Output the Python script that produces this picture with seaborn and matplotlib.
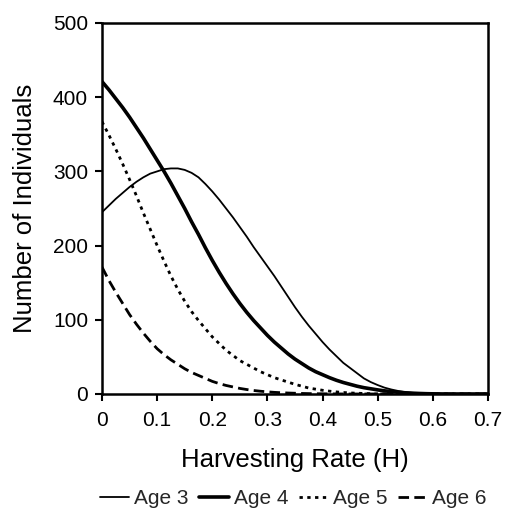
import matplotlib
matplotlib.use("Agg")
import matplotlib.pyplot as plt
import pandas as pd
import seaborn as sns

# Harvesting rate grid (H)
harvest = [
    0.0, 0.0125, 0.025, 0.0375, 0.05, 0.0625, 0.075, 0.0875,
    0.1, 0.1125, 0.125, 0.1375, 0.15, 0.1625, 0.175, 0.1875,
    0.2, 0.2125, 0.225, 0.2375, 0.25, 0.2625, 0.275, 0.2875,
    0.3, 0.3125, 0.325, 0.3375, 0.35, 0.3625, 0.375, 0.3875,
    0.4, 0.4125, 0.425, 0.4375, 0.45, 0.4625, 0.475, 0.4875,
    0.5, 0.5125, 0.525, 0.5375, 0.55, 0.5625, 0.575, 0.5875,
    0.6, 0.6125, 0.625, 0.6375, 0.65, 0.6625, 0.675, 0.6875,
    0.7,
]

# Number of individuals in each age class
age3 = [
    245, 254, 263, 271, 279, 286, 292, 297,
    300, 303, 304, 304, 302, 298, 292, 283,
    273, 262, 250, 238, 225, 212, 198, 185,
    172, 159, 145, 131, 117, 104, 92, 81,
    70, 60, 51, 42, 35, 28, 21, 16,
    12, 8.5, 6, 4, 2.5, 1.6, 1, 0.6,
    0.3, 0.15, 0, 0, 0, 0, 0, 0,
    0,
]
age4 = [
    421, 410, 398, 386, 373, 359, 345, 330,
    315, 300, 284, 267, 250, 232, 215, 197,
    180, 164, 149, 135, 122, 110, 99, 89,
    79, 70, 62, 54, 47, 41, 35, 30,
    26, 22, 18.5, 15.5, 13, 10.5, 8.5, 7,
    5.5, 4.2, 3.2, 2.3, 1.6, 1.1, 0.7, 0.4,
    0.2, 0.1, 0, 0, 0, 0, 0, 0,
    0,
]
age5 = [
    367, 349, 330, 310, 289, 267, 244, 222,
    200, 179, 159, 141, 125, 111, 99, 88,
    77, 68, 59, 52, 45, 40, 35, 30,
    26, 22, 19, 16, 13, 10.5, 8, 6.5,
    5, 3.8, 2.8, 2, 1.4, 1, 0.7, 0.4,
    0.25, 0.1, 0, 0, 0, 0, 0, 0,
    0, 0, 0, 0, 0, 0, 0, 0,
    0,
]
age6 = [
    171, 153, 137, 122, 107, 94, 82, 71,
    61, 53, 46, 40, 34, 29, 25, 21,
    17, 14, 11.5, 9.5, 7.5, 6, 4.7, 3.7,
    2.9, 2.2, 1.7, 1.3, 1, 0.7, 0.5, 0.35,
    0.25, 0.15, 0.1, 0, 0, 0, 0, 0,
    0, 0, 0, 0, 0, 0, 0, 0,
    0, 0, 0, 0, 0, 0, 0, 0,
    0,
]

series_names = ["Age 3", "Age 4", "Age 5", "Age 6"]
x_ticks = [0, 0.1, 0.2, 0.3, 0.4, 0.5, 0.6, 0.7]
x_tick_labels = ["0", "0.1", "0.2", "0.3", "0.4", "0.5", "0.6", "0.7"]
y_ticks = [0, 100, 200, 300, 400, 500]

df = pd.DataFrame({
    "H": harvest * 4,
    "N": age3 + age4 + age5 + age6,
    "Age": sum([[n] * len(harvest) for n in series_names], []),
})

sns.set_theme(style="white")
plt.rcParams["font.family"] = ["Liberation Sans", "DejaVu Sans"]

fig = plt.figure(figsize=(5.06, 5.11), dpi=100)
ax = fig.add_axes([0.2016, 0.229, 0.7628, 0.726])

line_styles = {
    "Age 3": dict(lw=1.3, ls="-"),
    "Age 4": dict(lw=2.6, ls="-"),
    "Age 5": dict(lw=2.0, ls=(0, (1.2, 1.6))),
    "Age 6": dict(lw=2.0, ls=(0, (3.8, 1.9))),
}

for name in series_names:
    sub = df[df["Age"] == name]
    st = line_styles[name]
    sns.lineplot(data=sub, x="H", y="N", ax=ax, color="black",
                 linewidth=st["lw"], linestyle=st["ls"], label=name,
                 legend=False)

ax.set_xlim(0, 0.7)
ax.set_ylim(0, 500)
ax.set_xticks(x_ticks)
ax.set_xticklabels(x_tick_labels)
ax.set_yticks(y_ticks)
ax.tick_params(axis="both", which="major", direction="out", length=5,
               width=1.5, color="black", labelsize=15, labelcolor="black",
               bottom=True, left=True)
ax.tick_params(axis="x", pad=7)
ax.tick_params(axis="y", pad=5)
for sp in ax.spines.values():
    sp.set_visible(True)
    sp.set_color("black")
    sp.set_linewidth(1.8)

ax.set_xlabel("Harvesting Rate (H)", fontsize=18.5, color="black", va="center")
ax.xaxis.set_label_coords(0.5, -0.177)
ax.set_ylabel("Number of Individuals", fontsize=18.5, color="black", va="center")
ax.yaxis.set_label_coords(-0.2, 0.5)

handles, labels = ax.get_legend_handles_labels()
fig.legend(handles, labels, loc="center", bbox_to_anchor=(0.58, 0.024),
           ncol=4, frameon=False, fontsize=15, handlelength=1.4,
           handletextpad=0.25, columnspacing=0.5, borderaxespad=0,
           borderpad=0)

fig.savefig("out.png", dpi=100, facecolor="white")
